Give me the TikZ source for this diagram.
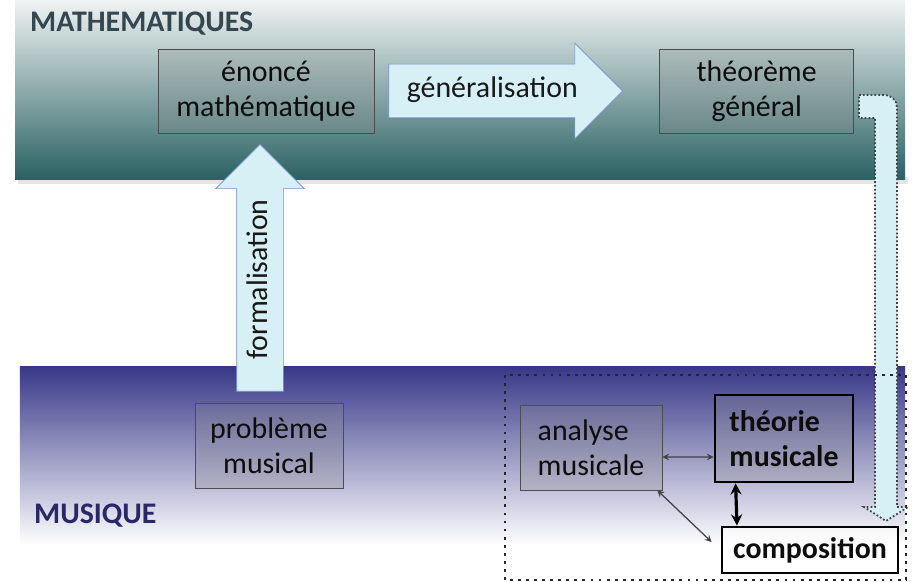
\documentclass[tikz,border=0pt]{standalone}
\usepackage{fontspec}
\setmainfont{Carlito}
\usepackage{tikz}
\usetikzlibrary{arrows,shapes.arrows,positioning}
\definecolor{mathclair}{RGB}{240,243,243}
\definecolor{mathfonce}{RGB}{42,97,99}
\definecolor{musifonce}{RGB}{56,56,136}
\definecolor{flechefond}{RGB}{214,240,245}
\definecolor{bordfleche}{RGB}{112,142,200}
\definecolor{titremath}{RGB}{52,70,80}
\definecolor{titremus}{RGB}{40,40,104}
\tikzset{
	boite/.style={draw=black!70, fill=black!45, fill opacity=0.25, text opacity=1, text=black!95, align=center, inner sep=0pt, font=\fontsize{17}{20}\selectfont},
	boitegras/.style={boite, draw=black, line width=1.6pt, font=\bfseries\fontsize{17}{20}\selectfont},
	grossefleche/.style={single arrow, draw=bordfleche, fill=flechefond, text height=0.42cm, text depth=0.14cm, inner xsep=0pt, font=\fontsize{17}{20}\selectfont, text=black!90},
	lien/.style={<->, >=stealth, draw=black!75, line width=0.7pt},
	lienepais/.style={<->, >=stealth, line width=1.8pt}
}

\begin{document}
\begin{tikzpicture}
			\useasboundingbox (0,0) rectangle (18.32,11.64);
			\fill[black!10] (0.36,7.96) rectangle (18.16,8.1);
			\shade[top color=mathclair, bottom color=mathfonce] (0.3,8.04) rectangle (18.1,11.64);
			\shade[top color=musifonce, bottom color=white] (0.4,0.74) rectangle (18.1,4.3);
			\node[anchor=west, text=titremath, font=\bfseries\fontsize{17}{20}\selectfont] (math) at (0.48,11.16) {MATHEMATIQUES};
			\node[anchor=west, text=titremus, font=\bfseries\fontsize{17}{20}\selectfont] (musique) at (0.56,1.32) {MUSIQUE};

			\node[boite, minimum width=4.32cm, minimum height=1.68cm] (enonce) at (5.32,9.82) {énoncé\\mathématique};
			\node[boite, minimum width=3.88cm, minimum height=1.68cm, right=5.7cm of enonce] (theoreme) {théorème\\général};
			\node[boite, minimum width=2.96cm, minimum height=1.7cm] (probleme) at (5.38,2.73) {problème\\musical};
			\node[boite, align=left, minimum width=2.84cm, minimum height=1.7cm] (analyse) at (11.82,2.69) {analyse\\musicale};
			\node[boitegras, align=left, minimum width=2.76cm, minimum height=1.74cm] (theorie) at (15.68,2.87) {théorie\\musicale};
			\node[boitegras, fill=white, fill opacity=0.6, minimum width=3.52cm, minimum height=0.92cm] (composition) at (16.2,0.64) {composition};

			\node[grossefleche, minimum height=4.68cm, single arrow head extend=0.42cm, inner ysep=0.25cm, anchor=tail] (generalisation) at ([xshift=0.28cm]enonce.east) {généralisation};
			\node[grossefleche, rotate=90, minimum height=4.94cm, single arrow head extend=0.42cm, inner ysep=0.18cm, anchor=tail] (formalisation) at ([xshift=-0.18cm,yshift=0.22cm]probleme.north) {formalisation};
			\filldraw[fill=flechefond, draw=black!75, dash pattern=on 1pt off 1.2pt, line width=1pt] (17.18,9.74) [rounded corners=0.25cm] -- (17.94,9.74) [sharp corners] -- (17.94,1.5) -- (18.16,1.5) -- (17.72,1.22) -- (17.28,1.5) -- (17.5,1.5) -- (17.5,9.28) -- (17.18,9.28) -- cycle;
			\draw[black!85, line width=1.6pt, dash pattern=on 1.6pt off 3pt] (10.1,0.04) rectangle (18.12,4.14);

			\draw[lien] ([yshift=-0.19cm]analyse.east) -- ([yshift=-0.37cm]theorie.west);
			\draw[lien] ([xshift=-0.1cm]analyse.south east) -- ([xshift=-0.18cm,yshift=0.16cm]composition.west);
			\draw[lienepais] ([xshift=0.44cm]theorie.south west) -- ([xshift=-1.46cm]composition.north);
		\end{tikzpicture}
\end{document}
